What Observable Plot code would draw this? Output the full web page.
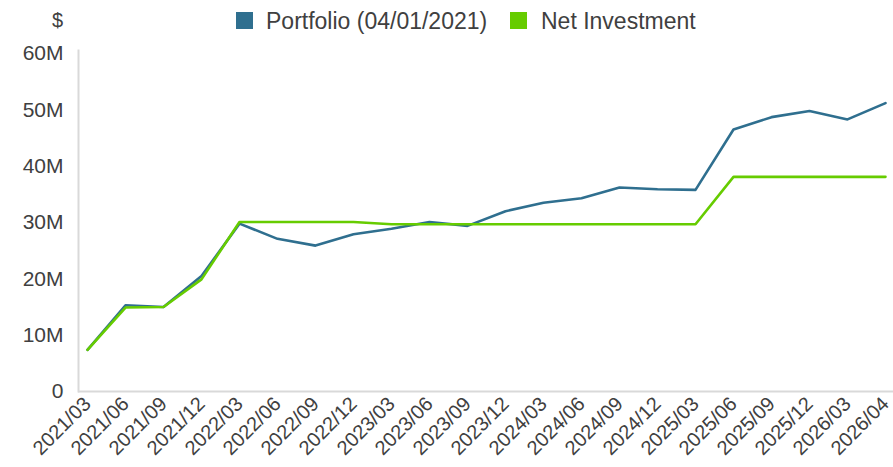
<!DOCTYPE html>
<html>
<head>
<meta charset="utf-8">
<script src="https://cdn.jsdelivr.net/npm/d3@7"></script>
<script src="https://cdn.jsdelivr.net/npm/@observablehq/plot@0.6"></script>
<style>
  html, body { margin: 0; padding: 0; background: #fff; }
  body { width: 893px; height: 467px; overflow: hidden; font-family: "Liberation Sans", Arial, sans-serif; color: #404040; }
  #header { position: relative; height: 40px; }
  .unit { position: absolute; left: 52px; top: 10px; font-size: 20px; line-height: 20px; }
  .sw { position: absolute; top: 12px; width: 17px; height: 17px; }
  .lt { position: absolute; top: 10px; font-size: 23px; line-height: 23px; white-space: nowrap; }
</style>
</head>
<body>
<div id="header"></div>
<div id="chart"></div>
<script>
const periods = ["2021/03","2021/06","2021/09","2021/12","2022/03","2022/06","2022/09","2022/12","2023/03","2023/06","2023/09","2023/12","2024/03","2024/06","2024/09","2024/12","2025/03","2025/06","2025/09","2025/12","2026/03","2026/04"];
const portfolio = [7.4,15.3,15.0,20.5,29.8,27.1,25.9,27.9,28.9,30.1,29.4,32.0,33.5,34.3,36.2,35.9,35.8,46.5,48.7,49.8,48.3,51.2];
const netInvestment = [7.4,14.9,15.0,19.9,30.1,30.1,30.1,30.1,29.7,29.7,29.7,29.7,29.7,29.7,29.7,29.7,29.7,38.1,38.1,38.1,38.1,38.1];
const yTicks = [0,10,20,30,40,50,60];
const seriesNames = ["Portfolio (04/01/2021)", "Net Investment"];
const seriesColors = ["#2f6f8f", "#66cc00"];
const unitLabel = "$";

const rows = [];
periods.forEach((p, i) => {
  rows.push({period: p, value: portfolio[i] * 1e6, series: seriesNames[0]});
});
periods.forEach((p, i) => {
  rows.push({period: p, value: netInvestment[i] * 1e6, series: seriesNames[1]});
});

const header = document.getElementById("header");
const u = document.createElement("div");
u.className = "unit"; u.textContent = unitLabel;
header.appendChild(u);
const legendPos = [[236, 266], [510, 541]];
seriesNames.forEach((name, i) => {
  const sw = document.createElement("div");
  sw.className = "sw"; sw.style.left = legendPos[i][0] + "px"; sw.style.background = seriesColors[i];
  header.appendChild(sw);
  const t = document.createElement("div");
  t.className = "lt"; t.style.left = legendPos[i][1] + "px"; t.textContent = name;
  header.appendChild(t);
});

const fmt = d => d === 0 ? "0" : (d / 1e6) + "M";

const chart = Plot.plot({
  width: 893,
  height: 427,
  marginLeft: 78,
  marginRight: 0,
  marginTop: 10,
  insetTop: 3,
  marginBottom: 76,
  style: { fontFamily: "Liberation Sans, Arial, sans-serif", color: "#404040", background: "#fff", overflow: "visible" },
  x: { type: "point", domain: periods, padding: 0, label: null },
  y: { domain: [0, 60e6], label: null },
  color: { domain: seriesNames, range: seriesColors },
  marks: [
    Plot.frame({ anchor: "left", stroke: "#d9d9d9", strokeWidth: 2, strokeOpacity: 1 }),
    Plot.ruleY([0], { stroke: "#d9d9d9", strokeWidth: 2 }),
    Plot.axisY({ ticks: yTicks.map(v => v * 1e6), tickFormat: fmt, tickSize: 0, tickPadding: 15, fontSize: 21, label: null }),
    Plot.axisX({ tickRotate: -45, tickSize: 0, tickPadding: 9, fontSize: 20, label: null }),
    Plot.line(rows, { x: "period", y: "value", z: "series", stroke: "series", strokeWidth: 2.6, strokeLinejoin: "round" })
  ]
});
document.getElementById("chart").appendChild(chart);
</script>
</body>
</html>
